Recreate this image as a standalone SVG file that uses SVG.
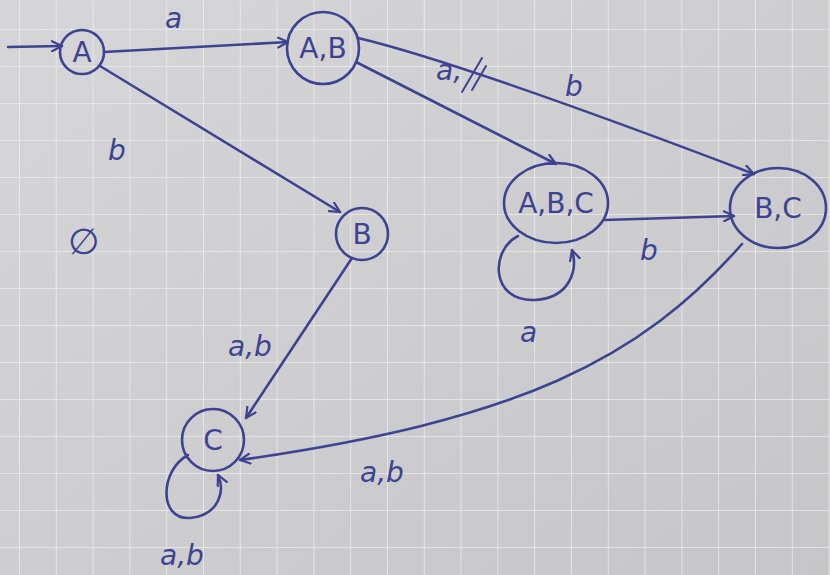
<svg xmlns="http://www.w3.org/2000/svg" width="830" height="575" viewBox="0 0 830 575">
<defs>
<pattern id="grid" x="19" y="29" width="36.8" height="37" patternUnits="userSpaceOnUse">
<path d="M0,0 H36.8 M0,0 V37" stroke="#ebebeb" stroke-width="1.6" fill="none"/>
</pattern>
<linearGradient id="paper" x1="0" y1="0" x2="1" y2="1">
<stop offset="0" stop-color="#d6d6d8"/>
<stop offset="1" stop-color="#c6c6c8"/>
</linearGradient>
<marker id="arr" viewBox="0 0 12 12" refX="11" refY="6" markerWidth="12" markerHeight="12" markerUnits="userSpaceOnUse" orient="auto">
<path d="M1,1 L11,6 L1,11" fill="none" stroke="#3d4391" stroke-width="2.2" stroke-linecap="round"/>
</marker>
</defs>
<style>
.ink{fill:none;stroke:#3d4391;stroke-width:2.6;stroke-linecap:round;stroke-linejoin:round}
.lbl{font-family:"DejaVu Sans",sans-serif;font-style:italic;fill:#3d4391;font-size:28px}
.nd{font-family:"DejaVu Sans",sans-serif;fill:#3d4391;font-size:28px;text-anchor:middle}
</style>
<rect width="830" height="575" fill="url(#paper)"/>
<rect width="830" height="575" fill="url(#grid)"/>

<g id="connectors">
<path class="ink" d="M8,47 L62,46" marker-end="url(#arr)"/>
<path class="ink" d="M104,52 L288,42" marker-end="url(#arr)"/>
<path class="ink" d="M100,66 L340,212" marker-end="url(#arr)"/>
<path class="ink" d="M356,62 L556,164" marker-end="url(#arr)"/>
<path class="ink" d="M358,38 Q460,62 754,174" marker-end="url(#arr)"/>
<path class="ink" d="M604,220 L734,216" marker-end="url(#arr)"/>
<path class="ink" d="M518,236 C490,250 490,302 535,300 C570,298 578,270 572,250" marker-end="url(#arr)"/>
<path class="ink" d="M352,258 L246,418" marker-end="url(#arr)"/>
<path class="ink" d="M742,244 C640,360 520,420 240,460" marker-end="url(#arr)"/>
<path class="ink" d="M188,455 C160,470 158,520 190,518 C220,515 225,490 218,475" marker-end="url(#arr)"/>
<path class="ink" d="M462,92 L482,58 M472,90 L486,66" style="stroke-width:2"/>
</g>

<g id="labels">
<text class="lbl" x="165" y="28">a</text>
<text class="lbl" x="108" y="160">b</text>
<text class="lbl" x="436" y="80">a,</text>
<text class="lbl" x="565" y="96">b</text>
<text class="lbl" x="640" y="260">b</text>
<text class="lbl" x="520" y="342">a</text>
<text class="lbl" x="228" y="356">a,b</text>
<text class="lbl" x="360" y="482">a,b</text>
<text class="lbl" x="160" y="565">a,b</text>
<text class="lbl" x="68" y="254" style="font-size:36px">∅</text>
</g>

<g id="node-A">
<circle class="ink" cx="82" cy="52" r="22"/>
<text class="nd" x="82" y="62">A</text>
</g>
<g id="node-AB">
<circle class="ink" cx="323" cy="48" r="36"/>
<text class="nd" x="323" y="58">A,B</text>
</g>
<g id="node-B">
<circle class="ink" cx="362" cy="234" r="26"/>
<text class="nd" x="362" y="244">B</text>
</g>
<g id="node-ABC">
<ellipse class="ink" cx="556" cy="203" rx="52" ry="40"/>
<text class="nd" x="556" y="213">A,B,C</text>
</g>
<g id="node-BC">
<ellipse class="ink" cx="778" cy="208" rx="48" ry="40"/>
<text class="nd" x="778" y="218">B,C</text>
</g>
<g id="node-C">
<circle class="ink" cx="213" cy="440" r="31"/>
<text class="nd" x="213" y="450">C</text>
</g>
</svg>
